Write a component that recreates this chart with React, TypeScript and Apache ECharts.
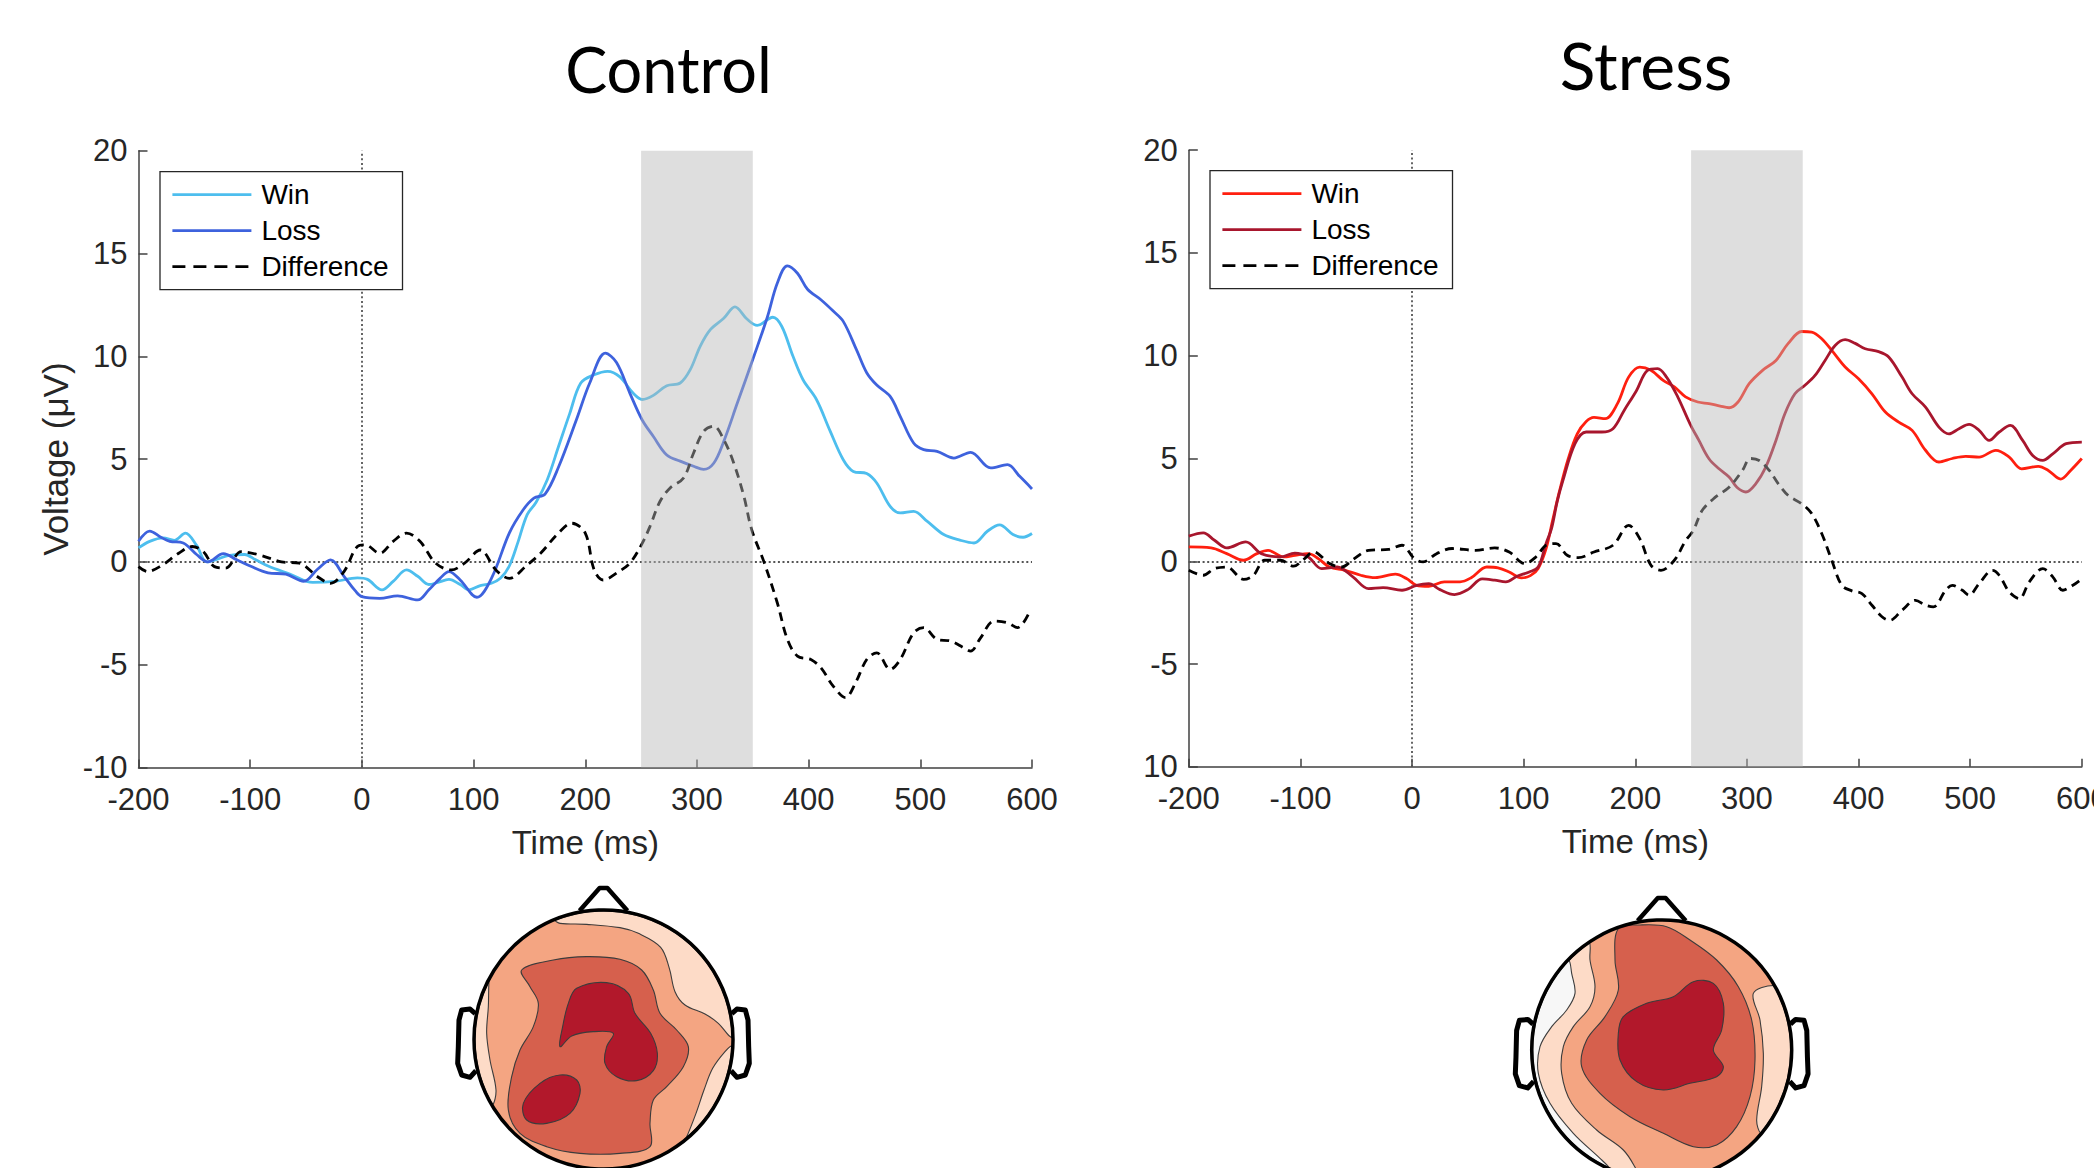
import React, { useEffect, useRef } from 'react';
import * as echarts from 'echarts';

type P = [number, number];

// ---------------- data (time in ms, voltage in µV) ----------------
const panelTitles = ['Control', 'Stress'];
const timeRange = [-200, 600];
const voltRange = [-10, 20];
const shadedWindow = [250, 350];

const controlWin: P[] = [
  [-200, 0.68], [-190, 1.0], [-178, 1.17], [-168, 1.05], [-158, 1.4], [-148, 0.8], [-139, 0.0], [-130, 0.12],
  [-120, 0.3], [-105, 0.36], [-95, 0.1], [-84, -0.2], [-64, -0.6], [-44, -1.0], [-24, -0.95], [-4, -0.78],
  [5, -0.85], [18, -1.36], [28, -0.95], [40, -0.39], [50, -0.7], [60, -1.1], [68, -1.0], [78, -0.85],
  [88, -1.1], [96, -1.36], [106, -1.15], [116, -1.04], [124, -0.8], [132, -0.2], [140, 1.0], [148, 2.3],
  [156, 2.9], [166, 4.0], [176, 5.6], [186, 7.2], [196, 8.7], [208, 9.1], [220, 9.27], [231, 9.0],
  [243, 8.2], [251, 7.9], [261, 8.1], [273, 8.57], [285, 8.7], [294, 9.35], [303, 10.5], [312, 11.3],
  [324, 11.85], [334, 12.4], [345, 11.8], [354, 11.5], [368, 11.9], [376, 11.45], [386, 10.0], [395, 8.86],
  [407, 7.9], [419, 6.4], [431, 4.97], [440, 4.4], [452, 4.3], [461, 3.84], [473, 2.7], [482, 2.38],
  [494, 2.46], [506, 1.98], [521, 1.33], [536, 1.05], [548, 0.92], [560, 1.49], [571, 1.8], [583, 1.33],
  [592, 1.2], [600, 1.38],
];
const controlLoss: P[] = [
  [-200, 1.0], [-190, 1.5], [-180, 1.2], [-172, 1.0], [-160, 0.92], [-148, 0.36], [-138, 0.0], [-124, 0.4],
  [-112, 0.1], [-100, -0.2], [-84, -0.53], [-68, -0.6], [-52, -0.94], [-40, -0.37], [-28, 0.1], [-16, -0.7],
  [-6, -1.4], [0, -1.69], [16, -1.77], [32, -1.65], [50, -1.85], [60, -1.36], [70, -0.8], [78, -0.47],
  [88, -0.88], [103, -1.72], [116, -0.8], [132, 1.4], [144, 2.5], [154, 3.1], [164, 3.3], [176, 4.6],
  [192, 6.9], [204, 8.7], [218, 10.15], [228, 9.7], [240, 8.2], [251, 6.9], [261, 6.1], [273, 5.2],
  [285, 4.9], [297, 4.65], [306, 4.5], [315, 4.8], [324, 5.86], [336, 7.7], [351, 10.0], [363, 11.9],
  [372, 13.56], [381, 14.4], [390, 14.04], [399, 13.26], [411, 12.75], [422, 12.2], [431, 11.7], [443, 10.3],
  [452, 9.2], [461, 8.6], [473, 8.05], [482, 7.08], [494, 5.78], [503, 5.46], [515, 5.38], [530, 5.05],
  [545, 5.33], [563, 4.57], [578, 4.73], [589, 4.16], [600, 3.55],
];
const controlDiff: P[] = [
  [-200, -0.23], [-192, -0.47], [-180, -0.2], [-164, 0.42], [-152, 0.75], [-142, 0.5], [-132, -0.23], [-122, -0.3],
  [-108, 0.5], [-92, 0.34], [-72, 0.0], [-56, -0.06], [-40, -0.71], [-28, -1.04], [-16, -0.47], [-4, 0.75],
  [3, 0.83], [16, 0.42], [28, 1.0], [40, 1.4], [52, 1.0], [66, -0.06], [80, -0.39], [92, -0.06],
  [106, 0.58], [120, -0.39], [132, -0.8], [148, -0.15], [160, 0.42], [176, 1.4], [188, 1.88], [200, 1.4],
  [208, -0.39], [216, -0.88], [230, -0.47], [240, -0.06], [251, 0.9], [258, 1.73], [267, 2.95], [276, 3.6],
  [288, 4.08], [297, 5.3], [306, 6.35], [315, 6.6], [324, 5.95], [333, 4.8], [342, 3.2], [349, 1.57],
  [360, 0.0], [372, -2.0], [381, -3.77], [390, -4.58], [402, -4.75], [411, -5.15], [422, -6.04], [433, -6.6],
  [442, -5.88], [452, -4.75], [461, -4.42], [473, -5.23], [482, -4.75], [494, -3.45], [503, -3.2], [515, -3.77],
  [527, -3.85], [539, -4.18], [545, -4.34], [554, -3.69], [566, -2.88], [578, -2.96], [587, -3.2], [598, -2.4],
];
const stressWin: P[] = [
  [-200, 0.7], [-180, 0.65], [-166, 0.37], [-151, 0.05], [-139, 0.37], [-129, 0.53], [-115, 0.21], [-105, 0.29],
  [-93, 0.37], [-84, 0.13], [-74, -0.28], [-60, -0.44], [-46, -0.68], [-33, -0.8], [-15, -0.63], [-5, -0.84],
  [4, -1.17], [15, -1.22], [29, -1.0], [43, -1.0], [53, -0.8], [67, -0.28], [77, -0.32], [87, -0.52],
  [98, -0.81], [106, -0.7], [113, -0.35], [120, 0.6], [126, 2.0], [132, 3.4], [140, 5.0], [148, 6.2],
  [156, 6.8], [163, 7.0], [173, 6.94], [184, 7.67], [194, 8.96], [204, 9.45], [214, 9.29], [225, 8.8],
  [235, 8.48], [245, 8.0], [256, 7.75], [266, 7.67], [276, 7.55], [284, 7.47], [292, 7.75], [302, 8.64],
  [314, 9.29], [326, 9.77], [337, 10.6], [349, 11.18], [358, 11.15], [367, 10.83], [376, 10.26], [388, 9.45],
  [400, 8.88], [412, 8.15], [424, 7.26], [436, 6.77], [448, 6.37], [460, 5.4], [472, 4.83], [484, 5.0],
  [496, 5.1], [508, 5.07], [523, 5.4], [535, 5.07], [546, 4.5], [561, 4.62], [570, 4.42], [581, 4.0],
  [590, 4.42], [600, 5.0],
];
const stressLoss: P[] = [
  [-200, 1.22], [-187, 1.38], [-177, 1.02], [-166, 0.65], [-149, 0.94], [-135, 0.37], [-118, 0.21], [-105, 0.4],
  [-93, 0.21], [-81, -0.36], [-67, -0.28], [-53, -0.76], [-39, -1.33], [-26, -1.28], [-9, -1.41], [4, -1.17],
  [15, -1.09], [25, -1.38], [38, -1.62], [50, -1.38], [63, -0.86], [74, -0.92], [84, -1.0], [94, -0.73],
  [105, -0.52], [113, -0.28], [120, 0.86], [125, 1.6], [130, 2.9], [135, 3.9], [146, 5.72], [156, 6.29],
  [170, 6.29], [180, 6.45], [190, 7.34], [201, 8.3], [211, 9.29], [220, 9.37], [228, 8.96], [238, 8.0],
  [249, 6.69], [257, 5.88], [266, 4.99], [275, 4.5], [284, 4.1], [291, 3.6], [299, 3.37], [308, 3.78],
  [317, 4.6], [326, 5.88], [334, 7.18], [343, 8.15], [352, 8.56], [361, 9.04], [370, 9.77], [379, 10.5],
  [388, 10.78], [397, 10.6], [406, 10.34], [418, 10.2], [427, 9.94], [439, 8.96], [448, 8.15], [460, 7.5],
  [472, 6.53], [481, 6.2], [490, 6.45], [499, 6.66], [508, 6.37], [517, 5.88], [526, 6.29], [536, 6.61],
  [547, 5.88], [556, 5.15], [565, 4.91], [574, 5.23], [586, 5.72], [600, 5.8],
];
const stressDiff: P[] = [
  [-200, -0.44], [-187, -0.68], [-177, -0.36], [-166, -0.28], [-151, -0.88], [-142, -0.68], [-132, 0.05], [-118, 0.05],
  [-106, -0.24], [-98, 0.05], [-88, 0.45], [-74, -0.11], [-63, -0.28], [-53, 0.08], [-39, 0.53], [-21, 0.58],
  [-9, 0.78], [2, 0.13], [10, -0.03], [22, 0.37], [36, 0.62], [57, 0.53], [74, 0.65], [87, 0.45],
  [101, -0.11], [111, 0.21], [120, 0.78], [129, 0.86], [139, 0.29], [149, 0.18], [163, 0.45], [180, 0.78],
  [194, 1.75], [204, 1.1], [214, -0.19], [223, -0.44], [235, 0.05], [245, 1.0], [252, 1.5], [260, 2.48],
  [272, 3.13], [284, 3.6], [296, 4.42], [303, 5.0], [311, 4.9], [320, 4.42], [328, 3.78], [337, 3.2],
  [349, 2.8], [358, 2.32], [367, 1.35], [376, 0.05], [385, -1.17], [394, -1.44], [403, -1.57], [412, -2.14],
  [421, -2.7], [428, -2.87], [439, -2.38], [451, -1.9], [460, -2.14], [467, -2.22], [478, -1.41], [484, -1.17],
  [493, -1.41], [499, -1.65], [508, -1.09], [520, -0.44], [526, -0.68], [535, -1.49], [544, -1.82], [553, -1.0],
  [565, -0.36], [574, -0.76], [583, -1.41], [592, -1.17], [600, -0.85],
];

// ---------------- styling ----------------
const FONT = 'Liberation Sans';
const AXIS_COLOR = '#404040';
const TEXT_COLOR = '#262626';
const COLORS = {
  controlWin: '#4DBEEE',
  controlLoss: '#3E62DD',
  stressWin: '#FF1F0F',
  stressLoss: '#A8162D',
  diff: '#000000',
};
const TOPO = { dark: '#B2182B', mid: '#D6604D', salmon: '#F4A582', light: '#FDDBC7', white: '#F7F7F7' };

type Region = { fill: string; arc?: [number, number]; pts: P[] };
type HeadSpec = { origin: P; center: P; r: number; regions: Region[] };

const controlHead: HeadSpec = {
  origin: [420, 860],
  center: [603.5, 1039.5],
  r: 129.5,
  regions: [
    { fill: TOPO.light, arc: [-112, -1], pts: [[925, 525], [895, 490], [855, 462], [795, 435], [765, 395], [748, 325], [722, 262], [655, 220], [600, 203], [500, 193], [420, 190]] },
    { fill: TOPO.light, arc: [3, 51], pts: [[800, 835], [828, 760], [852, 690], [878, 625], [915, 575]] },
    { fill: TOPO.light, arc: [149.5, 208], pts: [[200, 360], [205, 440], [200, 520], [210, 600], [228, 690]] },
    { fill: TOPO.mid, pts: [[305, 330], [400, 300], [500, 290], [600, 298], [665, 330], [700, 390], [720, 460], [770, 510], [805, 560], [790, 620], [740, 680], [700, 720], [690, 790], [690, 860], [600, 880], [480, 880], [380, 860], [300, 820], [265, 750], [275, 650], [300, 570], [340, 500], [355, 430], [330, 380]] },
    { fill: TOPO.dark, pts: [[470, 385], [560, 368], [625, 400], [645, 460], [692, 520], [712, 580], [700, 632], [650, 662], [590, 650], [555, 610], [560, 560], [580, 520], [520, 515], [455, 528], [420, 560], [428, 500], [445, 430]] },
    { fill: TOPO.dark, pts: [[310, 730], [360, 670], [420, 645], [470, 660], [480, 700], [450, 760], [380, 790], [320, 780]] },
  ],
};

const stressHead: HeadSpec = {
  origin: [1490, 860],
  center: [1661.7, 1050],
  r: 130,
  regions: [
    { fill: TOPO.light, arc: [100, 236], pts: [[300, 300], [315, 380], [300, 440], [250, 500], [220, 560], [215, 640], [245, 730], [320, 810], [400, 870], [440, 930]] },
    { fill: TOPO.white, arc: [114, 224], pts: [[245, 340], [255, 400], [230, 450], [185, 500], [150, 560], [145, 640], [180, 730], [250, 820], [330, 895]] },
    { fill: TOPO.light, arc: [-30, 40], pts: [[800, 780], [815, 680], [820, 580], [810, 480], [790, 400]] },
    { fill: TOPO.mid, pts: [[385, 205], [450, 195], [530, 200], [600, 240], [680, 300], [745, 380], [785, 480], [795, 600], [780, 710], [740, 800], [680, 855], [610, 860], [520, 820], [420, 770], [330, 700], [275, 620], [290, 540], [345, 470], [385, 390], [375, 300]] },
    { fill: TOPO.dark, pts: [[400, 470], [470, 430], [550, 410], [610, 365], [670, 370], [700, 430], [695, 510], [670, 570], [700, 620], [680, 650], [600, 670], [520, 690], [440, 665], [390, 600], [385, 520]] },
  ],
};

const earShape: P[] = [[-0.99, -0.2], [-1.03, -0.235], [-1.095, -0.228], [-1.116, -0.15], [-1.121, 0.055], [-1.126, 0.184], [-1.095, 0.274], [-1.031, 0.292], [-0.985, 0.241]];
const noseShape: P[] = [[-0.185, -0.995], [-0.03, -1.17], [0.03, -1.17], [0.185, -0.995]];

function headGraphics(spec: HeadSpec): any[] {
  const [ox, oy] = spec.origin;
  const [cx, cy] = spec.center;
  const r = spec.r;
  const lim = r - 1;
  const conv = ([x, y]: P): P => {
    let px = ox + x / 3;
    let py = oy + y / 3;
    const dx = px - cx, dy = py - cy;
    const d = Math.hypot(dx, dy);
    if (d > lim) { px = cx + (dx * lim) / d; py = cy + (dy * lim) / d; }
    return [px, py];
  };
  const arc = (a0: number, a1: number): P[] => {
    const pts: P[] = [];
    const n = Math.max(2, Math.ceil(Math.abs(a1 - a0) / 4));
    for (let i = 0; i <= n; i++) {
      const a = ((a0 + ((a1 - a0) * i) / n) * Math.PI) / 180;
      pts.push([cx + lim * Math.cos(a), cy + lim * Math.sin(a)]);
    }
    return pts;
  };
  const els: any[] = [];
  els.push({ type: 'circle', shape: { cx, cy, r }, style: { fill: TOPO.salmon } });
  for (const reg of spec.regions) {
    const pts = [...(reg.arc ? arc(reg.arc[0], reg.arc[1]) : []), ...reg.pts.map(conv)];
    els.push({ type: 'polygon', shape: { points: pts, smooth: 0.35 }, style: { fill: reg.fill, stroke: '#3c3c3c', lineWidth: 1.1 } });
  }
  els.push({ type: 'circle', shape: { cx, cy, r }, style: { fill: 'none', stroke: '#000', lineWidth: 3.5 } });
  const scale = (pts: P[], mirror = 1) => pts.map(([x, y]) => [cx + mirror * x * r, cy + y * r]);
  els.push({ type: 'polyline', shape: { points: scale(noseShape) }, style: { stroke: '#000', lineWidth: 4.5, fill: 'none', lineJoin: 'round' } });
  els.push({ type: 'polyline', shape: { points: scale(earShape) }, style: { stroke: '#000', lineWidth: 5, fill: 'none', lineJoin: 'round' } });
  els.push({ type: 'polyline', shape: { points: scale(earShape, -1) }, style: { stroke: '#000', lineWidth: 5, fill: 'none', lineJoin: 'round' } });
  return els;
}

function buildOption() {
  const grids = [
    { left: 138.5, top: 150.7, width: 893.5, height: 616.8, outerBoundsMode: 'none', containLabel: false },
    { left: 1188.8, top: 150.2, width: 893, height: 616.6, outerBoundsMode: 'none', containLabel: false },
  ];
  const xAxes = grids.map((_, i) => ({
    type: 'value', gridIndex: i, min: timeRange[0], max: timeRange[1], interval: 100,
    name: 'Time (ms)', nameLocation: 'middle', nameGap: 58,
    nameTextStyle: { fontSize: 33, color: TEXT_COLOR, fontFamily: FONT },
    axisLine: { show: true, onZero: false, lineStyle: { color: AXIS_COLOR, width: 1.5 } },
    axisTick: { show: true, inside: true, length: 8, lineStyle: { color: AXIS_COLOR, width: 1.5 } },
    axisLabel: { fontSize: 31, color: TEXT_COLOR, fontFamily: FONT, margin: 16 },
    splitLine: { show: false },
  }));
  const yAxes = grids.map((_, i) => ({
    type: 'value', gridIndex: i, min: voltRange[0], max: voltRange[1], interval: 5,
    name: i === 0 ? 'Voltage (μV)' : '', nameLocation: 'middle', nameGap: 66,
    nameTextStyle: { fontSize: 35, color: TEXT_COLOR, fontFamily: FONT },
    axisLine: { show: true, onZero: false, lineStyle: { color: AXIS_COLOR, width: 1.5 } },
    axisTick: { show: true, inside: true, length: 9, lineStyle: { color: AXIS_COLOR, width: 1.5 } },
    axisLabel: {
      fontSize: 31, color: TEXT_COLOR, fontFamily: FONT, margin: 11,
      formatter: (v: number) => (i === 1 && v === -10 ? '10' : String(v)),
    },
    splitLine: { show: false },
  }));

  const zeroLines = {
    silent: true, symbol: ['none', 'none'], z: 1,
    label: { show: false },
    lineStyle: { color: '#555555', type: [2, 2.6], width: 1.8 },
    emphasis: { disabled: true },
    data: [{ xAxis: 0 }, { yAxis: 0 }],
  };
  const shade = {
    silent: true, z: 10,
    label: { show: false },
    itemStyle: { color: 'rgba(184,184,184,0.46)', borderWidth: 0 },
    emphasis: { disabled: true },
    data: [[{ xAxis: shadedWindow[0] }, { xAxis: shadedWindow[1] }]],
  };

  const mk = (name: string, data: P[], color: string, idx: number, dashed: boolean, extra: any = {}) => ({
    type: 'line', name, data, xAxisIndex: idx, yAxisIndex: idx,
    symbol: 'none', smooth: 0.35, z: 2,
    lineStyle: { color, width: 2.8, type: dashed ? [9, 6] : 'solid' },
    itemStyle: { color },
    emphasis: { disabled: true },
    ...extra,
  });

  const series = [
    mk('Control Win', controlWin, COLORS.controlWin, 0, false, { markLine: zeroLines, markArea: shade }),
    mk('Control Loss', controlLoss, COLORS.controlLoss, 0, false),
    mk('Control Difference', controlDiff, COLORS.diff, 0, true),
    mk('Stress Win', stressWin, COLORS.stressWin, 1, false, { markLine: zeroLines, markArea: shade }),
    mk('Stress Loss', stressLoss, COLORS.stressLoss, 1, false),
    mk('Stress Difference', stressDiff, COLORS.diff, 1, true),
  ];

  const legendBase = {
    orient: 'vertical', itemWidth: 79, itemHeight: 28, itemGap: 8,
    padding: [9, 14, 9, 11],
    borderColor: '#262626', borderWidth: 1.3, borderRadius: 0, backgroundColor: '#ffffff',
    itemStyle: { opacity: 0, color: 'rgba(0,0,0,0)', borderWidth: 0 },
    lineStyle: { width: 2.8 },
    textStyle: { fontSize: 28, color: '#000', fontFamily: FONT, lineHeight: 28, padding: [0, 0, 0, 5] },
    formatter: (n: string) => n.replace(/^(Control|Stress) /, ''),
    selectedMode: false,
  };
  const legends = panelTitles.map((p, i) => ({
    ...legendBase,
    left: i === 0 ? 160 : 1210,
    top: i === 0 ? 171.7 : 170.7,
    data: [
      { name: `${p} Win` },
      { name: `${p} Loss` },
      { name: `${p} Difference`, lineStyle: { type: [13, 8], width: 2.8 } },
    ],
  }));

  const titles = [
    { type: 'text', x: 668.5, y: 68, style: { text: panelTitles[0], font: '63px Lato', fill: '#000', textAlign: 'center', textVerticalAlign: 'middle' } },
    { type: 'text', x: 1646, y: 64, style: { text: panelTitles[1], font: '66px Lato', fill: '#000', textAlign: 'center', textVerticalAlign: 'middle' } },
  ];

  return {
    animation: false,
    backgroundColor: '#ffffff',
    textStyle: { fontFamily: FONT },
    grid: grids,
    xAxis: xAxes,
    yAxis: yAxes,
    legend: legends,
    series,
    graphic: [...titles, ...headGraphics(controlHead), ...headGraphics(stressHead)],
  };
}

export default function App() {
  const ref = useRef<HTMLDivElement>(null);
  useEffect(() => {
    document.body.style.margin = '0';
    const chart = echarts.init(ref.current as HTMLDivElement, null, { renderer: 'svg' });
    chart.setOption(buildOption() as any);
    return () => chart.dispose();
  }, []);
  return <div ref={ref} style={{ position: 'fixed', left: 0, top: 0, width: 2094, height: 1168, background: '#fff' }} />;
}
